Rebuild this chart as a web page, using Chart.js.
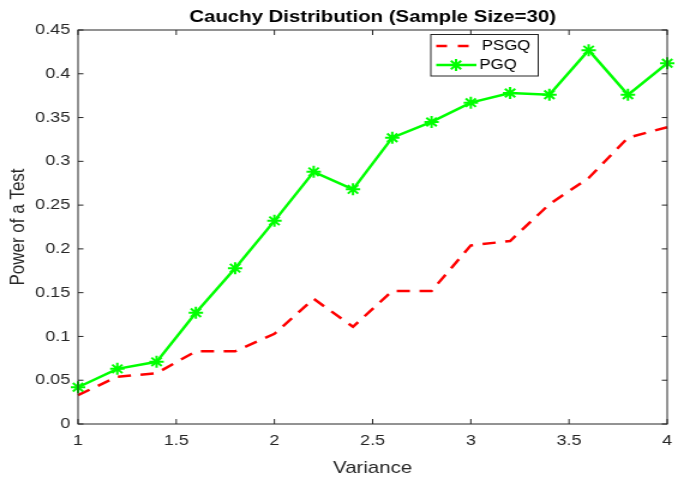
<!DOCTYPE html>
<html>
<head>
<meta charset="utf-8">
<script src="https://cdn.jsdelivr.net/npm/chart.js@4"></script>
<style>
  html, body { margin: 0; padding: 0; background: #fff; overflow: hidden; }
  /* figure was exported with wide pixels, so the canvas is stretched horizontally */
  #wrap { width: 564px; height: 479px; transform: scaleX(1.2); transform-origin: 0 0; }
</style>
</head>
<body>
<div id="wrap"><canvas id="powerChart"></canvas></div>
<script>
const chartTitle = 'Cauchy Distribution (Sample Size=30)';
const xTitle = 'Variance';
const yTitle = 'Power of a Test';
const seriesNames = ['PSGQ', 'PGQ'];

const variance = [1, 1.2, 1.4, 1.6, 1.8, 2, 2.2, 2.4, 2.6, 2.8, 3, 3.2, 3.4, 3.6, 3.8, 4];
const psgq = [0.033, 0.054, 0.058, 0.083, 0.083, 0.103, 0.143, 0.111, 0.152, 0.152, 0.204, 0.209, 0.251, 0.281, 0.327, 0.339];
const pgq = [0.042, 0.063, 0.071, 0.127, 0.178, 0.232, 0.288, 0.268, 0.327, 0.345, 0.367, 0.378, 0.376, 0.427, 0.376, 0.412];

const xTickValues = [1, 1.5, 2, 2.5, 3, 3.5, 4];
const xTickLabels = ['1', '1.5', '2', '2.5', '3', '3.5', '4'];
const yTickValues = [0, 0.05, 0.1, 0.15, 0.2, 0.25, 0.3, 0.35, 0.4, 0.45];
const yTickLabels = ['0', '0.05', '0.1', '0.15', '0.2', '0.25', '0.3', '0.35', '0.4', '0.45'];

const axisColor = '#262626';
const fontFamily = '"Liberation Sans", Arial, Helvetica, sans-serif';

const toPoints = (ys) => variance.map((x, i) => ({ x: x, y: ys[i] }));

// box round the axes, with the ticks pointing inwards on all four sides
const axesBox = {
    id: 'axesBox',
    afterDraw(chart) {
        const { ctx, chartArea: a, scales } = chart;
        ctx.save();
        ctx.strokeStyle = axisColor;
        ctx.lineWidth = 1;
        ctx.strokeRect(a.left, a.top, a.right - a.left, a.bottom - a.top);
        ctx.beginPath();
        xTickValues.forEach(v => {
            const px = scales.x.getPixelForValue(v);
            ctx.moveTo(px, a.bottom); ctx.lineTo(px, a.bottom - 5);
            ctx.moveTo(px, a.top); ctx.lineTo(px, a.top + 5);
        });
        yTickValues.forEach(v => {
            const py = scales.y.getPixelForValue(v);
            ctx.moveTo(a.left, py); ctx.lineTo(a.left + 4.5, py);
            ctx.moveTo(a.right, py); ctx.lineTo(a.right - 4.5, py);
        });
        ctx.stroke();

        // title, centred over the axes
        ctx.fillStyle = '#000';
        ctx.font = 'bold 17px ' + fontFamily;
        ctx.textAlign = 'center';
        ctx.textBaseline = 'middle';
        ctx.fillText(chartTitle, (a.left + a.right) / 2, 17);
        ctx.restore();
    }
};

// legend in the upper part of the axes
const boxLegend = {
    id: 'boxLegend',
    afterDraw(chart) {
        const { ctx } = chart;
        const left = 359, top = 34.5, w = 89.5, h = 41.5;
        ctx.save();
        ctx.fillStyle = '#fff';
        ctx.fillRect(left, top, w, h);
        ctx.strokeStyle = axisColor;
        ctx.lineWidth = 1;
        ctx.strokeRect(left, top, w, h);
        ctx.font = '14px ' + fontFamily;
        ctx.textBaseline = 'middle';
        ctx.textAlign = 'left';
        const rows = [46, 65];
        chart.data.datasets.forEach((ds, i) => {
            const y = rows[i];
            ctx.beginPath();
            ctx.strokeStyle = ds.borderColor;
            ctx.lineWidth = ds.borderWidth;
            ctx.setLineDash(ds.borderDash && ds.borderDash.length ? [9, 9] : []);
            ctx.moveTo(363.5, y);
            ctx.lineTo(ds.pointRadius ? 397 : 391, y);
            ctx.stroke();
            ctx.setLineDash([]);
            if (ds.pointRadius) {
                ctx.lineWidth = ds.pointBorderWidth;
                ctx.strokeStyle = ds.pointBorderColor;
                Chart.helpers.drawPoint(ctx, { pointStyle: 'star', radius: ds.pointRadius, rotation: 0, borderWidth: ds.pointBorderWidth }, 380, y);
            }
            ctx.fillStyle = '#000';
            ctx.fillText(ds.label, i === 0 ? 401.5 : 399.5, y + 0.5);
        });
        ctx.restore();
    }
};

new Chart(document.getElementById('powerChart'), {
    type: 'line',
    data: {
        datasets: [
            {
                label: seriesNames[0],
                data: toPoints(psgq),
                borderColor: '#ff0000',
                borderWidth: 2.5,
                borderDash: [11, 8],
                pointRadius: 0,
                tension: 0,
                clip: false,
                order: 1
            },
            {
                label: seriesNames[1],
                data: toPoints(pgq),
                borderColor: '#00ff00',
                borderWidth: 2.5,
                pointStyle: 'star',
                pointRadius: 6,
                pointBorderWidth: 2,
                pointBorderColor: '#00ff00',
                pointBackgroundColor: '#00ff00',
                tension: 0,
                clip: false,
                order: 0
            }
        ]
    },
    options: {
        responsive: true,
        maintainAspectRatio: false,
        animation: false,
        layout: { padding: { top: 30, right: 7.3, bottom: 0, left: 0 } },
        plugins: { legend: { display: false }, tooltip: { enabled: false }, title: { display: false } },
        scales: {
            x: {
                type: 'linear',
                min: 1,
                max: 4,
                grid: { display: false, drawTicks: false },
                border: { display: false },
                afterBuildTicks: (scale) => { scale.ticks = xTickValues.map(v => ({ value: v })); },
                afterFit: (scale) => { scale.height = 55; scale.paddingLeft = 0; scale.paddingRight = 0; },
                ticks: {
                    padding: 8,
                    maxRotation: 0,
                    color: axisColor,
                    font: { family: fontFamily, size: 15 },
                    callback: (value, index) => xTickLabels[index]
                },
                title: {
                    display: true,
                    text: xTitle,
                    color: axisColor,
                    font: { family: fontFamily, size: 17 },
                    padding: { top: 6, bottom: 0 }
                }
            },
            y: {
                type: 'linear',
                min: 0,
                max: 0.45,
                grid: { display: false, drawTicks: false },
                border: { display: false },
                afterBuildTicks: (scale) => { scale.ticks = yTickValues.map(v => ({ value: v })); },
                afterFit: (scale) => { scale.width = 65; scale.paddingTop = 0; scale.paddingBottom = 0; },
                ticks: {
                    padding: 6.5,
                    color: axisColor,
                    font: { family: fontFamily, size: 15 },
                    callback: (value, index) => yTickLabels[index]
                },
                title: {
                    display: true,
                    text: yTitle,
                    color: axisColor,
                    font: { family: fontFamily, size: 17 },
                    padding: { top: 5.5, bottom: 0 }
                }
            }
        }
    },
    plugins: [axesBox, boxLegend]
});
</script>
</body>
</html>
